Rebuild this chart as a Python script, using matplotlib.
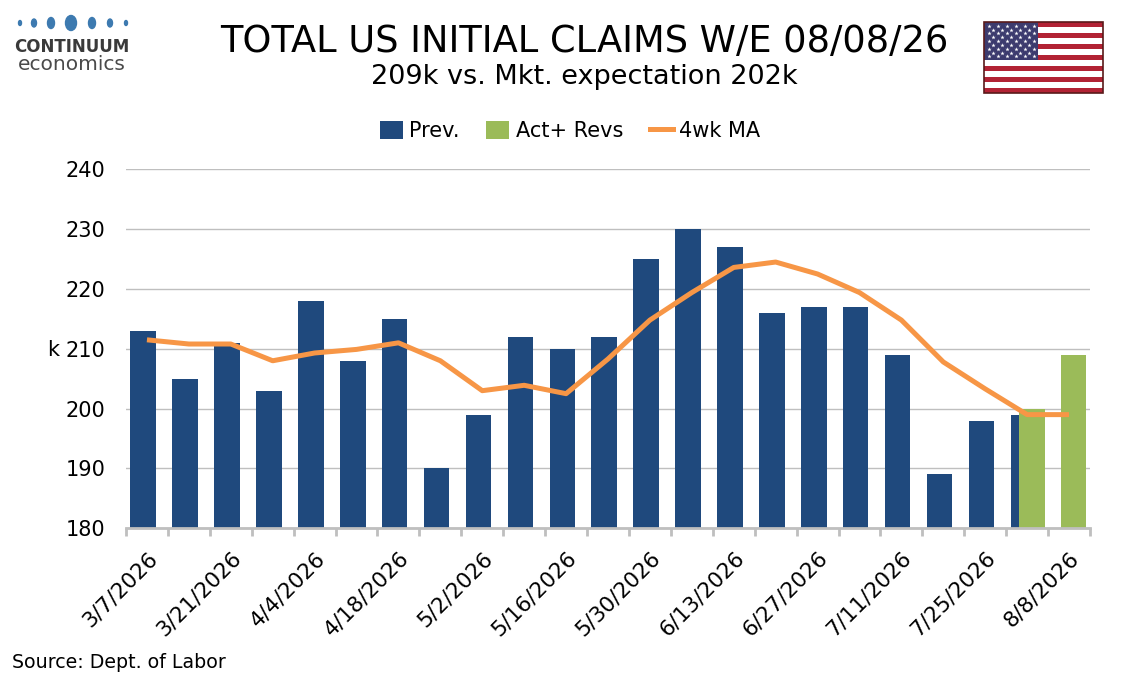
import matplotlib
matplotlib.use("Agg")
import matplotlib.pyplot as plt
from matplotlib.patches import Rectangle, Ellipse, Patch
from matplotlib.lines import Line2D
import numpy as np

# ---------------- data ----------------
weeks = ["3/7/2026", "3/14/2026", "3/21/2026", "3/28/2026", "4/4/2026", "4/11/2026",
         "4/18/2026", "4/25/2026", "5/2/2026", "5/9/2026", "5/16/2026", "5/23/2026",
         "5/30/2026", "6/6/2026", "6/13/2026", "6/20/2026", "6/27/2026", "7/4/2026",
         "7/11/2026", "7/18/2026", "7/25/2026", "8/1/2026", "8/8/2026"]
prev = [213, 205, 211, 203, 218, 208, 215, 190, 199, 212, 210, 212,
        225, 230, 227, 216, 217, 217, 209, 189, 198, 199, np.nan]
act_revs = [np.nan] * 21 + [200, 209]
ma4 = [211.5, 210.8, 210.8, 208.0, 209.3, 209.9, 211.0, 208.0, 203.0, 203.9, 202.5, 208.3,
       214.8, 219.4, 223.6, 224.5, 222.5, 219.4, 214.8, 207.8, 203.3, 199.0, 199.0]
yticks = [180, 190, 200, 210, 220, 230, 240]

title = "TOTAL US INITIAL CLAIMS W/E 08/08/26"
subtitle = "209k vs. Mkt. expectation 202k"
source = "Source: Dept. of Labor"

# ---------------- style ----------------
C_PREV = "#1F497D"
C_ACT = "#9BBB59"
C_MA = "#F79646"
C_GRID = "#BFBFBF"
plt.rcParams["font.family"] = ["DejaVu Sans"]

W, H = 1134, 680
fig = plt.figure(figsize=(W / 100, H / 100), dpi=100)
fig.patch.set_facecolor("white")

ax = fig.add_axes([126 / W, 1 - 528.3 / H, (1090 - 126) / W, (528.3 - 169.3) / H])
x = np.arange(len(weeks))
bw = 0.61
ax.bar(x - 0.09, prev, width=bw, color=C_PREV, zorder=2)
ax.bar(x + 0.11, act_revs, width=bw, color=C_ACT, zorder=3)
ax.plot(x, ma4, color=C_MA, lw=3.6, zorder=4, solid_joinstyle="round", solid_capstyle="butt")

ax.set_xlim(-0.5, len(weeks) - 0.5)
ax.set_ylim(180, 240)
ax.set_yticks(yticks)
ax.set_yticklabels([str(v) for v in yticks], fontsize=15)
ax.tick_params(axis="y", length=0, pad=15)
ax.yaxis.grid(True, color=C_GRID, lw=1.0, zorder=0)
ax.set_axisbelow(True)
for s in ["left", "right", "top"]:
    ax.spines[s].set_visible(False)
ax.spines["bottom"].set_color(C_GRID)
ax.spines["bottom"].set_linewidth(2)
ax.spines["bottom"].set_zorder(5)

ax.set_xticks(x[::2])
ax.set_xticklabels(weeks[::2], rotation=45, ha="right", va="top",
                   rotation_mode="anchor", fontsize=15.5)
ax.tick_params(axis="x", which="major", length=0, pad=14)
ax.set_xticks(np.arange(len(weeks) + 1) - 0.5, minor=True)
ax.tick_params(axis="x", which="minor", length=6, width=2, color=C_GRID, direction="out")

fig.text(53 / W, 1 - 350 / H, "k", fontsize=15, ha="center", va="center")

# titles
fig.text(584 / W, 1 - 41 / H, title, fontsize=26.5, ha="center", va="center")
fig.text(584 / W, 1 - 77 / H, subtitle, fontsize=19.5, ha="center", va="center")
fig.text(12 / W, 1 - 663 / H, source, fontsize=13.7, ha="left", va="center")

# legend
handles = [Patch(facecolor=C_PREV), Patch(facecolor=C_ACT),
           Line2D([0], [0], color=C_MA, lw=3.6)]
fig.legend(handles, ["Prev.", "Act+ Revs", "4wk MA"], loc="center",
           bbox_to_anchor=(570 / W, 1 - 131 / H), ncol=3, frameon=False,
           fontsize=15, handlelength=1.1, handleheight=1.0, handletextpad=0.3,
           columnspacing=1.3)

# decorations: logo and flag
deco = fig.add_axes([0, 0, 1, 1], zorder=-1)
deco.set_xlim(0, W)
deco.set_ylim(H, 0)
deco.axis("off")
deco.patch.set_alpha(0)

dot_x = [20, 34, 51, 71, 92, 110, 126]
dot_h = [5, 8, 11, 15, 11, 8, 5]
dot_w = [3, 5, 7, 11, 7, 5, 3]
for dx, dh, dw in zip(dot_x, dot_h, dot_w):
    deco.add_patch(Ellipse((dx, 23), dw, dh, color="#3D7AB0"))
deco.text(71.5, 47, "CONTINUUM", fontsize=12, fontweight="bold", color="#3A3A3A",
          ha="center", va="center")
deco.text(71.5, 64, "economics", fontsize=14.5, color="#4A4A4A",
          ha="center", va="center")

fx0, fy0, fw, fh = 984, 22, 119, 71
sh = fh / 13
for i in range(13):
    deco.add_patch(Rectangle((fx0, fy0 + i * sh), fw, sh,
                             color="#B22234" if i % 2 == 0 else "white", lw=0))
cw, ch = 54, sh * 7
deco.add_patch(Rectangle((fx0, fy0), cw, ch, color="#3C3B6E", lw=0))
for r in range(9):
    n = 6 if r % 2 == 0 else 5
    for c in range(n):
        sx = fx0 + cw / 12 * (2 * c + 1 + (0 if r % 2 == 0 else 1))
        sy = fy0 + ch / 10 * (r + 1)
        deco.plot(sx, sy, marker="*", color="white", ms=3.2, mew=0)
deco.add_patch(Rectangle((fx0, fy0), fw, fh, fill=False, ec="#5A1A1A", lw=1.2))

fig.savefig("out.png", dpi=100, facecolor="white")
